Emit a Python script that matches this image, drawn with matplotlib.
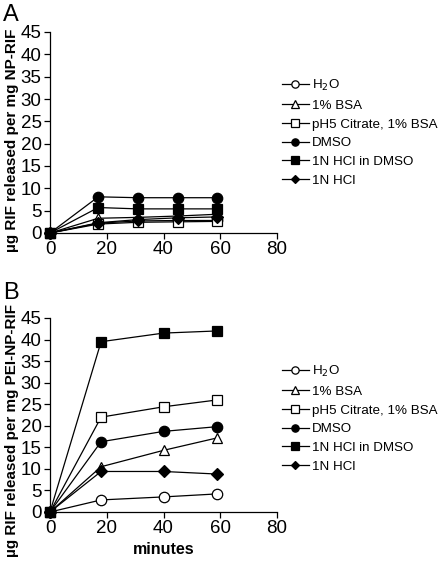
import matplotlib
matplotlib.use('Agg')
import matplotlib.pyplot as plt

plt.rcParams['font.family'] = ['Liberation Sans', 'DejaVu Sans']

# series labels and marker styles
labels = ['H$_2$O', '1% BSA', 'pH5 Citrate, 1% BSA', 'DMSO', '1N HCl in DMSO', '1N HCl']
markers = ['o', '^', 's', 'o', 's', 'D']
filled = [False, False, False, True, True, True]

# panel A: NP-RIF
timeA = [0, 17, 31, 45, 59]
a_h2o = [0, 2.2, 2.7, 2.8, 2.8]
a_bsa = [0, 3.3, 3.5, 3.8, 4.2]
a_ph5 = [0, 2.0, 2.4, 2.5, 2.6]
a_dmso = [0, 8.1, 7.9, 7.9, 7.9]
a_hcl_dmso = [0, 5.7, 5.4, 5.4, 5.4]
a_hcl = [0, 2.3, 3.0, 3.4, 3.6]

# panel B: PEI-NP-RIF
timeB = [0, 18, 40, 59]
b_h2o = [0, 2.8, 3.5, 4.2]
b_bsa = [0, 10.5, 14.3, 17.2]
b_ph5 = [0, 22.0, 24.4, 26.0]
b_dmso = [0, 16.3, 18.7, 19.8]
b_hcl_dmso = [0, 39.5, 41.5, 42.0]
b_hcl = [0, 9.4, 9.4, 8.8]

xticks = [0, 20, 40, 60, 80]
yticks = list(range(0, 50, 5))

fig = plt.figure(figsize=(4.38, 5.63), dpi=100)
W, H = 438.0, 563.0
axA = fig.add_axes([50/W, 1-233/H, 227/W, 201/H])
axB = fig.add_axes([50/W, 1-512/H, 227/W, 194/H])

def panel(ax, t, series, ylabel, ylab_pos, legend_top):
    for y, lab, m, f in zip(series, labels, markers, filled):
        ms = 6.5 if m == 'D' else 7.5
        ax.plot(t, y, color='black', lw=0.9, marker=m, ms=ms,
                mfc='black' if f else 'white', mec='black', mew=0.9,
                label=lab, clip_on=False, zorder=3)
    ax.set_xlim(0, 80)
    ax.set_ylim(0, 45)
    ax.set_xticks(xticks)
    ax.set_yticks(yticks)
    ax.spines['top'].set_visible(False)
    ax.spines['right'].set_visible(False)
    ax.tick_params(direction='out', length=4, width=0.9, labelsize=13.5, pad=2)
    for s in ['left', 'bottom']:
        ax.spines[s].set_linewidth(0.9)
    ax.set_ylabel(ylabel, fontsize=11, fontweight='bold')
    ax.yaxis.set_label_coords(-0.135, ylab_pos)
    ax.legend(loc='upper left', bbox_to_anchor=(282/W, 1-legend_top/H),
              bbox_transform=fig.transFigure, frameon=False, fontsize=9.6,
              handlelength=2.0, handletextpad=0.25, labelspacing=0.48,
              borderpad=0, borderaxespad=0, markerscale=0.7)

panel(axA, timeA, [a_h2o, a_bsa, a_ph5, a_dmso, a_hcl_dmso, a_hcl],
      'µg RIF released per mg NP-RIF', 0.46, 78)
panel(axB, timeB, [b_h2o, b_bsa, b_ph5, b_dmso, b_hcl_dmso, b_hcl],
      'µg RIF released per mg PEI-NP-RIF', 0.42, 364)
axB.set_xlabel('minutes', fontsize=11.5, fontweight='bold', labelpad=3)

fig.text(3/W, 1-4/H, 'A', fontsize=17, va='top', ha='left')
fig.text(3/W, 1-282/H, 'B', fontsize=17, va='top', ha='left')

fig.savefig('out.png', dpi=100)
